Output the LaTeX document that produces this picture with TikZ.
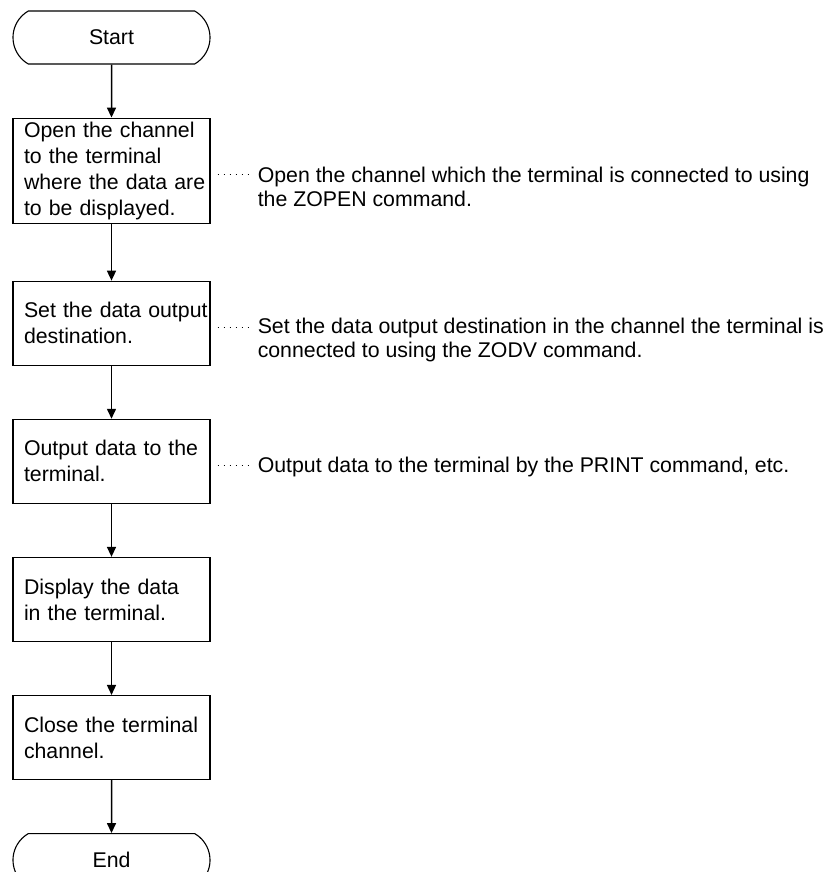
\documentclass[tikz,border=0pt]{standalone}
\usepackage{fontspec}
\setmainfont{Liberation Sans}
\usetikzlibrary{shapes.misc, arrows.meta, positioning, calc}

\begin{document}
\begin{tikzpicture}[x=1pt, y=1pt, node distance=53pt,
  terminal/.style={draw, line width=1.1pt, rounded rectangle, rounded rectangle arc length=120,
    minimum width=197pt, minimum height=53pt, inner sep=0pt, font=\fontsize{21.3}{26}\selectfont},
  stepbox/.style={draw, line width=1.1pt, text width=175pt, inner xsep=11pt, inner ysep=0pt,
    align=left, minimum height=84pt, font=\fontsize{21.3}{26}\selectfont},
  note/.style={anchor=north west, inner sep=0pt, align=left, font=\fontsize{21.3}{24}\selectfont},
  flow/.style={line width=1.5pt, -{Triangle[length=10pt, width=9pt]}},
  dots/.style={line width=1.3pt, dash pattern=on 1.3pt off 4.7pt, shorten <=7pt, shorten >=7pt}]

  \useasboundingbox (0,0) rectangle (827,-872);

  % flow chart
  \node[terminal] (start) at (111.5,-37.5) {Start};
  \node[stepbox, minimum height=105pt, below=of start] (open) {Open the channel\\to the terminal\\\mbox{where the data are}\\to be displayed.};
  \node[stepbox, below=57pt of open] (dest) {\mbox{Set the data output}\\destination.};
  \node[stepbox, below=of dest] (output) {Output data to the\\terminal.};
  \node[stepbox, below=of output] (display) {Display the data\\in the terminal.};
  \node[stepbox, below=of display] (close) {Close the terminal\\channel.};
  \node[terminal, below=of close] (end) {End};

  \draw[flow] (start) -- (open);
  \draw[flow] (open) -- (dest);
  \draw[flow] (dest) -- (output);
  \draw[flow] (output) -- (display);
  \draw[flow] (display) -- (close);
  \draw[flow] (close) -- (end);

  % remarks
  \node[note] (openNote) at ([xshift=47pt, yshift=4pt]open.east) {Open the channel which the terminal is connected to using\\the ZOPEN command.};
  \node[note] (destNote) at ([xshift=47pt, yshift=5pt]dest.east) {Set the data output destination in the channel the terminal is\\connected to using the ZODV command.};
  \node[note] (outputNote) at ([xshift=47pt, yshift=4pt]output.east) {Output data to the terminal by the PRINT command, etc.};

  \draw[dots] ($(open.east)+(0,-4)$) -- ($(open.east -| openNote.west)+(0,-4)$);
  \draw[dots] ($(dest.east)+(0,-4)$) -- ($(dest.east -| destNote.west)+(0,-4)$);
  \draw[dots] ($(output.east)+(0,-4)$) -- ($(output.east -| outputNote.west)+(0,-4)$);
\end{tikzpicture}
\end{document}
